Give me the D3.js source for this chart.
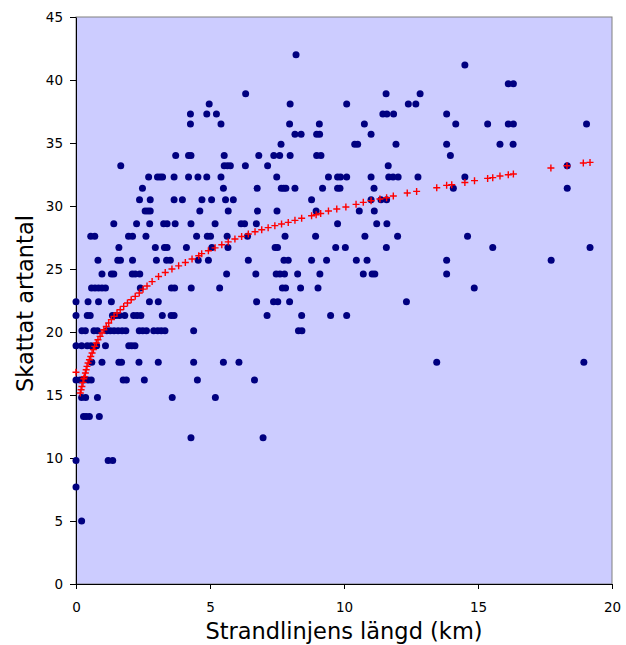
<!DOCTYPE html>
<html>
<head>
<meta charset="utf-8">
<script src="https://cdn.jsdelivr.net/npm/d3@7"></script>
<style>
  html, body { margin: 0; padding: 0; background: #ffffff; }
  svg { display: block; }
</style>
</head>
<body>
<script>
// ---- Data ----
// Observed sites: estimated species count (y) per shoreline length (x, km), grouped by y-level
const obsRows = [
  [42.0, [8.21]],
  [41.2, [14.51]],
  [39.7, [16.13, 16.32]],
  [38.9, [6.33, 11.57, 12.84]],
  [38.1, [4.97, 7.99, 10.10, 12.40, 12.68]],
  [37.3, [4.27, 4.88, 5.24, 11.45, 11.60, 11.85, 13.83]],
  [36.5, [4.27, 5.41, 7.97, 9.08, 10.76, 14.17, 15.36, 16.13, 16.32, 19.05]],
  [35.7, [8.17, 8.40, 8.98, 9.09, 11.01]],
  [34.9, [7.65, 10.40, 10.51, 11.94, 13.83, 15.82, 16.31]],
  [34.0, [3.72, 4.20, 4.29, 5.53, 6.82, 7.38, 7.60, 7.99, 8.98, 9.14, 13.97]],
  [33.2, [1.67, 5.53, 5.65, 5.76, 6.32, 7.15, 11.65, 18.33]],
  [32.3, [2.71, 3.04, 3.14, 3.23, 3.66, 4.20, 4.55, 4.88, 5.41, 7.49, 9.42, 9.76, 9.87, 10.10, 11.01, 11.67, 11.83, 12.02, 12.76, 14.51]],
  [31.4, [2.48, 5.50, 6.76, 7.66, 7.75, 7.83, 8.17, 9.20, 9.76, 9.85, 11.12, 14.08, 18.33]],
  [30.5, [2.37, 2.77, 3.66, 3.97, 4.70, 5.06, 5.58, 5.87, 8.79, 11.01, 11.38, 11.59]],
  [29.6, [2.58, 2.68, 2.77, 4.62, 5.68, 6.77, 7.50, 8.96, 10.57, 11.13]],
  [28.6, [1.41, 2.26, 2.75, 3.27, 3.40, 3.70, 4.29, 5.19, 6.16, 6.29, 6.73, 9.76, 11.22, 11.60]],
  [27.6, [0.55, 0.70, 1.96, 2.11, 2.61, 4.50, 4.90, 5.02, 5.64, 6.40, 7.80, 8.94, 10.78, 12.00, 14.61]],
  [26.7, [1.60, 2.96, 3.30, 3.40, 4.12, 5.07, 5.67, 7.43, 7.52, 9.69, 10.05, 11.58, 15.55, 19.18]],
  [25.7, [0.82, 1.56, 1.66, 2.11, 3.00, 3.38, 3.52, 4.56, 4.94, 6.43, 7.76, 7.92, 8.79, 9.35, 10.46, 10.86, 13.83, 17.73]],
  [24.6, [0.97, 1.32, 1.41, 2.10, 2.21, 2.38, 5.62, 6.71, 7.47, 7.61, 7.78, 8.27, 9.10, 10.72, 11.05, 11.15, 13.83]],
  [23.5, [0.58, 0.71, 0.84, 0.97, 1.10, 2.40, 3.56, 3.68, 4.30, 5.36, 7.70, 7.82, 8.38, 9.03, 14.86]],
  [22.4, [0.00, 0.45, 0.84, 1.32, 2.74, 3.07, 6.74, 7.37, 7.53, 7.97, 12.33]],
  [21.3, [0.00, 0.42, 0.53, 1.36, 1.48, 1.62, 1.82, 2.15, 2.28, 2.42, 3.22, 3.55, 3.66, 7.13, 8.42, 9.50, 10.10]],
  [20.1, [0.22, 0.35, 0.67, 0.80, 1.15, 1.28, 1.42, 1.57, 1.72, 1.86, 2.36, 2.49, 2.63, 2.90, 3.05, 3.18, 3.32, 4.39, 8.30, 8.43]],
  [18.9, [0.00, 0.21, 0.42, 0.56, 0.77, 1.10, 1.97, 2.08, 2.20]],
  [17.6, [0.59, 0.97, 1.60, 1.70, 2.35, 3.07, 4.39, 5.50, 6.08, 13.46, 18.95]],
  [16.2, [0.00, 0.15, 0.30, 0.45, 0.57, 1.76, 1.88, 2.55, 4.53, 6.66]],
  [14.8, [0.21, 0.36, 0.80, 3.59, 5.20]],
  [13.3, [0.28, 0.38, 0.50, 0.87]],
  [11.6, [4.29, 6.98]],
  [9.8,  [0.00, 1.20, 1.37]],
  [7.7,  [0.00]],
  [5.0,  [0.21]]
];

// Fitted / modelled series (red + markers)
const fitLength = [0.00, 0.16, 0.19, 0.22, 0.26, 0.29, 0.31, 0.35, 0.38, 0.41, 0.45, 0.50, 0.55, 0.60, 0.65, 0.70,
  0.76, 0.82, 0.90, 0.97, 1.04, 1.13, 1.22, 1.32, 1.42, 1.53, 1.65, 1.78, 1.92, 2.06, 2.21, 2.36, 2.50, 2.65,
  2.84, 3.08, 3.33, 3.58, 3.83, 4.08, 4.33, 4.58, 4.69, 4.94, 5.19, 5.44, 5.68, 5.93, 6.18, 6.43, 6.68, 6.93,
  7.17, 7.42, 7.67, 7.92, 8.17, 8.42, 8.79, 8.96, 9.13, 9.42, 9.73, 10.07, 10.45, 10.72, 11.01, 11.34, 11.59,
  11.84, 12.36, 12.71, 13.46, 13.83, 14.02, 14.51, 14.87, 15.36, 15.55, 15.82, 16.13, 16.32, 17.72, 18.32,
  18.93, 19.18];
const fitSpecies = [16.80, 15.16, 15.42, 15.68, 16.00, 16.29, 16.45, 16.75, 17.00, 17.27, 17.54, 17.80, 18.06, 18.33, 18.60, 18.86,
  19.13, 19.39, 19.65, 19.92, 20.18, 20.44, 20.71, 20.98, 21.24, 21.51, 21.77, 22.03, 22.30, 22.56, 22.83, 23.10, 23.40, 23.65,
  24.00, 24.40, 24.72, 25.00, 25.25, 25.52, 25.79, 26.05, 26.22, 26.45, 26.68, 26.92, 27.15, 27.38, 27.58, 27.78, 27.96, 28.12,
  28.28, 28.44, 28.57, 28.70, 28.86, 29.03, 29.23, 29.31, 29.41, 29.60, 29.76, 29.92, 30.13, 30.29, 30.42, 30.55, 30.66,
  30.79, 31.03, 31.16, 31.45, 31.64, 31.69, 31.87, 32.01, 32.19, 32.25, 32.38, 32.48, 32.54, 33.02, 33.20,
  33.41, 33.46];

const xTicks = [0, 5, 10, 15, 20];
const yTicks = [0, 5, 10, 15, 20, 25, 30, 35, 40, 45];
const xTitle = "Strandlinjens längd (km)";
const yTitle = "Skattat artantal";

// ---- Layout ----
const W = 626, H = 645;
const plot = { left: 76, right: 612, top: 17, bottom: 584 };

const svg = d3.select("body").append("svg").attr("width", W).attr("height", H);

const x = d3.scaleLinear().domain([0, 20]).range([plot.left, plot.right]);
const y = d3.scaleLinear().domain([0, 45]).range([plot.bottom, plot.top]);

// plot area
svg.append("rect")
  .attr("x", plot.left).attr("y", plot.top)
  .attr("width", plot.right - plot.left).attr("height", plot.bottom - plot.top)
  .attr("fill", "#CCCCFF").attr("stroke", "#808080").attr("stroke-width", 1);

const font = "'DejaVu Sans', Verdana, sans-serif";

// axes
const gx = svg.append("g").attr("transform", `translate(0,${plot.bottom})`)
  .call(d3.axisBottom(x).tickValues(xTicks).tickSize(5).tickPadding(13).tickSizeOuter(0));
const gy = svg.append("g").attr("transform", `translate(${plot.left},0)`)
  .call(d3.axisLeft(y).tickValues(yTicks).tickSize(6).tickPadding(7).tickSizeOuter(0));
[gx, gy].forEach(g => {
  g.select(".domain").attr("stroke", "#000").attr("stroke-width", 1);
  g.selectAll(".tick line").attr("stroke", "#000");
  g.selectAll(".tick text").attr("font-family", font).attr("font-size", "13.5px").attr("fill", "#000");
});
gy.selectAll(".tick text").attr("dy", "0.36em");

// observations
const obs = [];
obsRows.forEach(([v, xs]) => xs.forEach(l => obs.push({ l, v })));

svg.append("g").selectAll("circle").data(obs).join("circle")
  .attr("cx", d => x(d.l)).attr("cy", d => y(d.v)).attr("r", 3.5)
  .attr("fill", "#000080");

// red plus markers
const fit = fitLength.map((l, i) => ({ l, v: fitSpecies[i] }));
const plusPath = "M-3.5,0H3.5M0,-3.5V3.5";
svg.append("g").selectAll("path").data(fit).join("path")
  .attr("transform", d => `translate(${x(d.l)},${y(d.v)})`)
  .attr("d", plusPath)
  .attr("stroke", "#FF0000").attr("stroke-width", 1.4).attr("fill", "none");

// titles
svg.append("text")
  .attr("x", (plot.left + plot.right) / 2).attr("y", 639)
  .attr("text-anchor", "middle")
  .attr("font-family", font).attr("font-size", "22.5px").attr("fill", "#000")
  .text(xTitle);

svg.append("text")
  .attr("transform", `translate(32.5,${(plot.top + plot.bottom) / 2 + 3}) rotate(-90)`)
  .attr("text-anchor", "middle")
  .attr("font-family", font).attr("font-size", "22.5px").attr("fill", "#000")
  .text(yTitle);
</script>
</body>
</html>
